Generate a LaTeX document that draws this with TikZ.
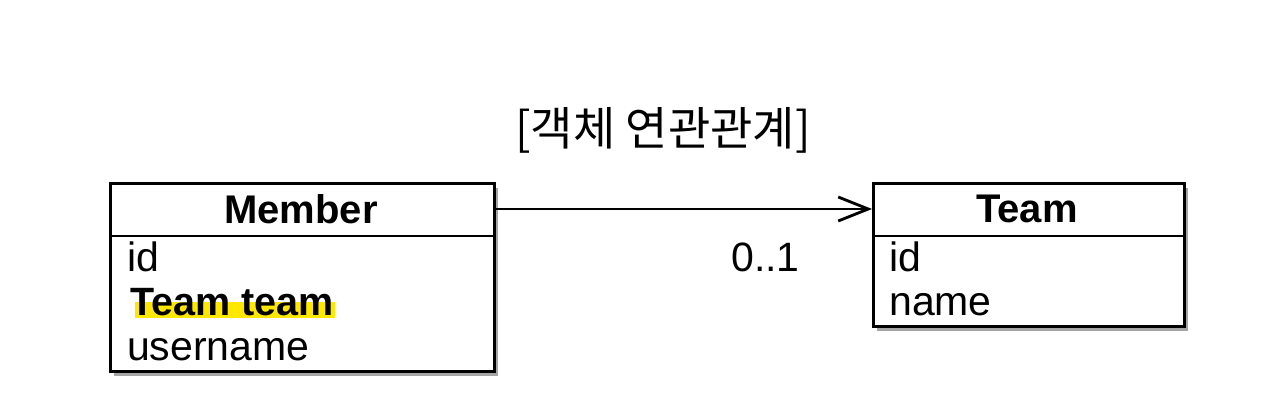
\documentclass[tikz,border=0pt]{standalone}
\usepackage{fontspec}
\setmainfont{Liberation Sans}
\newfontfamily\kofont{Noto Sans CJK KR}
\usetikzlibrary{arrows.meta,shadows}
\definecolor{hl}{HTML}{FFE800}
\tikzset{
  classbox/.style={draw=black, line width=2.8pt, fill=white, drop shadow={shadow xshift=4pt, shadow yshift=-5pt, opacity=0.5, fill=black!70}, anchor=north west, inner sep=0pt},
  divider/.style={draw=black, line width=2.4pt},
  headtxt/.style={font=\fontsize{40}{44}\selectfont\bfseries, inner sep=0pt},
  attr/.style={font=\fontsize{41}{46}\selectfont, anchor=base west, inner sep=0pt},
  assoc/.style={line width=2.8pt, -{Straight Barb[length=30pt,width=24pt,line width=2.8pt]}},
}
\begin{document}
\begin{tikzpicture}[x=1pt,y=-1pt]
\useasboundingbox (0,0) rectangle (1277,417);
% title
\node[font=\kofont\fontsize{46}{50}\selectfont, inner sep=0pt] (title) at (663,130) {[객체 연관관계]};
% Member class
\node[classbox, minimum width=384pt, minimum height=188pt] (member) at (109,182) {};
\coordinate (mdl) at (109,236);
\coordinate (mdr) at (493,236);
\draw[divider] (mdl) -- (mdr);
\node[headtxt] (mname) at (301,209) {Member};
\fill[hl] (135,302) rectangle (335,318);
\node[attr, font=\fontsize{39.5}{44}\selectfont\bfseries] (m2) at (130,315) {Team team};
\node[attr] (m1) at (127,271) {id};
\node[attr] (m3) at (127,360) {username};
% Team class
\node[classbox, minimum width=311pt, minimum height=143pt] (team) at (872,182) {};
\coordinate (tdl) at (872,236);
\coordinate (tdr) at (1183,236);
\draw[divider] (tdl) -- (tdr);
\node[headtxt] (tname) at (1027,209) {Team};
\node[attr] (t1) at (889,271) {id};
\node[attr] (t2) at (889,315) {name};
% association
\draw[assoc] (member.north east |- mname) -- (team.north west |- tname);
\node[attr] (mult) at (731,271) {0..1};
\end{tikzpicture}
\end{document}
